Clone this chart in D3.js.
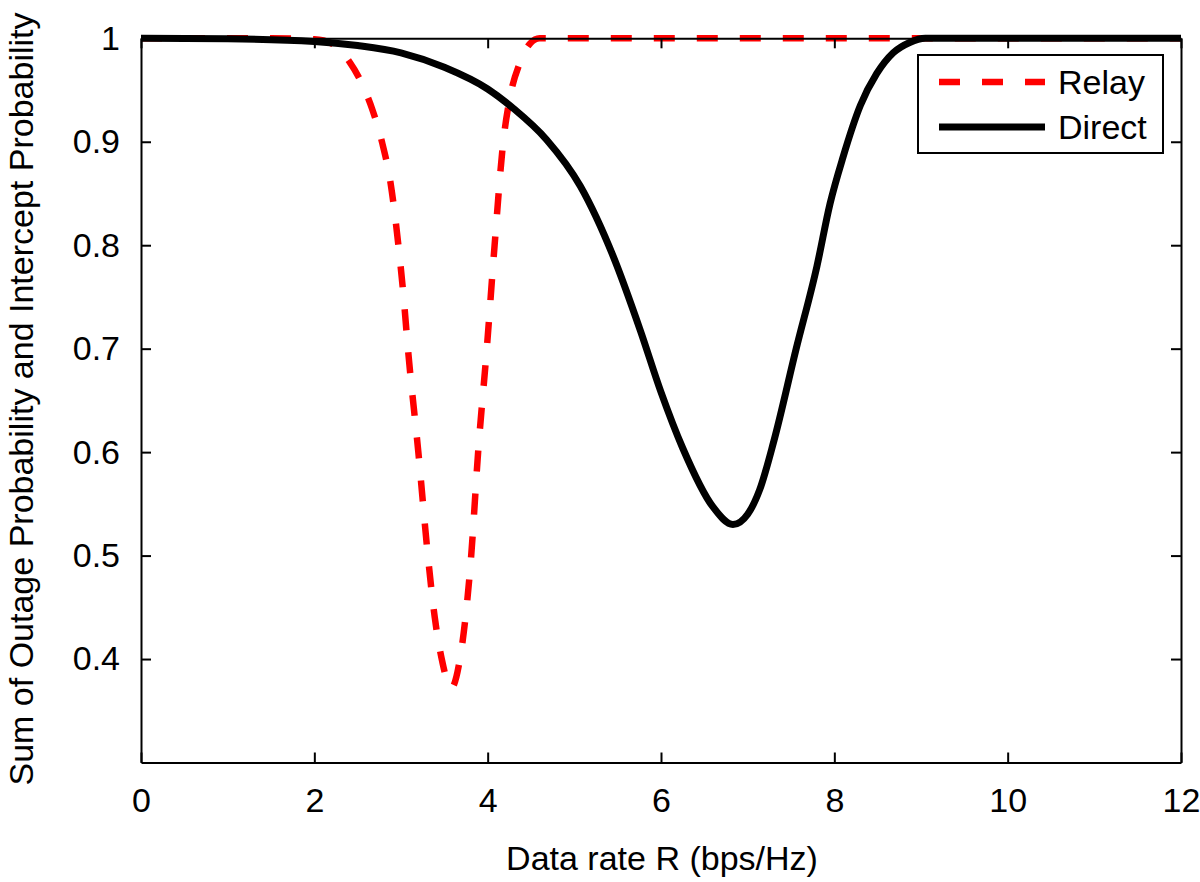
<!DOCTYPE html>
<html>
<head>
<meta charset="utf-8">
<script src="https://cdn.jsdelivr.net/npm/d3@7"></script>
<style>
  html, body { margin: 0; padding: 0; background: #fff; }
  svg { display: block; }
  text { font-family: "Liberation Sans", Arial, Helvetica, sans-serif; fill: #000; }
</style>
</head>
<body>
<svg id="chart" width="1200" height="882"></svg>
<script>
// ---- data ----
const relayX = [0, 1, 1.5, 2, 2.2, 2.4, 2.55, 2.67, 2.78, 2.88, 2.97, 3.03, 3.08, 3.2, 3.31, 3.39, 3.47, 3.58, 3.68, 3.81, 3.89, 3.99, 4.08, 4.18, 4.26, 4.37, 4.49, 4.6, 5, 6, 8, 10, 12];
const relayY = [1, 1, 1, 0.999, 0.995, 0.978, 0.956, 0.931, 0.9, 0.86, 0.8, 0.75, 0.7, 0.6, 0.5, 0.44, 0.4, 0.372, 0.4, 0.5, 0.6, 0.7, 0.8, 0.9, 0.944, 0.976, 0.995, 1, 1, 1, 1, 1, 1];
const directX = [0, 1, 2, 2.5, 3, 3.5, 4.0, 4.3, 4.68, 5.07, 5.45, 5.76, 6.0, 6.25, 6.6, 6.83, 7.0, 7.14, 7.3, 7.56, 7.8, 7.95, 8.1, 8.3, 8.49, 8.68, 8.87, 9.05, 10, 12];
const directY = [1, 0.9995, 0.997, 0.993, 0.986, 0.972, 0.951, 0.932, 0.902, 0.857, 0.789, 0.718, 0.658, 0.604, 0.547, 0.530, 0.54, 0.564, 0.61, 0.7, 0.78, 0.84, 0.885, 0.935, 0.966, 0.986, 0.996, 1, 1, 1];
const xTicks = [0, 2, 4, 6, 8, 10, 12];
const yTicks = [0.4, 0.5, 0.6, 0.7, 0.8, 0.9, 1];
const seriesNames = ["Relay", "Direct"];
const xTitle = "Data rate R (bps/Hz)";
const yTitle = "Sum of Outage Probability and Intercept Probability";

// ---- layout ----
const svg = d3.select("#chart");
const L = 141, R = 1181, T = 38.3, B = 762.5;
const x = d3.scaleLinear().domain([0, 12]).range([L, R]);
const y = d3.scaleLinear().domain([0.3, 1]).range([B, T]);

const relay = relayX.map((v, i) => [v, relayY[i]]);
const direct = directX.map((v, i) => [v, directY[i]]);

const line = d3.line().x(d => x(d[0])).y(d => y(d[1])).curve(d3.curveMonotoneX);

const clipId = "plotclip";
svg.append("clipPath").attr("id", clipId)
  .append("rect").attr("x", L).attr("y", T - 5).attr("width", R - L).attr("height", B - T + 5);

const plot = svg.append("g").attr("clip-path", `url(#${clipId})`);
plot.append("path").datum(relay)
  .attr("d", line).attr("fill", "none")
  .attr("stroke", "#ff0000").attr("stroke-width", 6.5)
  .attr("stroke-dasharray", "21,22");
plot.append("path").datum(direct)
  .attr("d", line).attr("fill", "none")
  .attr("stroke", "#000").attr("stroke-width", 7)
  .attr("stroke-linejoin", "round");

// axes (ticks inward, mirrored)
const tickLen = 10;
const fs = 34;
const axB = svg.append("g").attr("transform", `translate(0,${B})`)
  .call(d3.axisBottom(x).tickValues(xTicks).tickSizeInner(-tickLen).tickSizeOuter(0).tickPadding(25));
const axT = svg.append("g").attr("transform", `translate(0,${T})`)
  .call(d3.axisTop(x).tickValues(xTicks).tickSizeInner(-tickLen).tickSizeOuter(0).tickFormat(""));
const axL = svg.append("g").attr("transform", `translate(${L},0)`)
  .call(d3.axisLeft(y).tickValues(yTicks).tickSizeInner(-tickLen).tickSizeOuter(0).tickPadding(21).tickFormat(d3.format("")));
const axR = svg.append("g").attr("transform", `translate(${R},0)`)
  .call(d3.axisRight(y).tickValues(yTicks).tickSizeInner(-tickLen).tickSizeOuter(0).tickFormat(""));

[axB, axT, axL, axR].forEach(g => {
  g.select(".domain").attr("stroke", "#000").attr("stroke-width", 2);
  g.selectAll(".tick line").attr("stroke", "#000").attr("stroke-width", 2);
  g.selectAll("text").attr("font-size", fs).attr("font-family", "'Liberation Sans', Arial, sans-serif").attr("fill", "#000");
});
axB.selectAll("text").attr("dy", "0.71em");

// axis titles
svg.append("text").attr("x", (L + R) / 2 + 1).attr("y", 870)
  .attr("text-anchor", "middle").attr("font-size", fs).text(xTitle);
svg.append("text").attr("transform", `translate(33,${399}) rotate(-90)`)
  .attr("text-anchor", "middle").attr("font-size", fs).text(yTitle);

// legend
const lg = svg.append("g");
lg.append("rect").attr("x", 918).attr("y", 55).attr("width", 245).attr("height", 98)
  .attr("fill", "#fff").attr("stroke", "#000").attr("stroke-width", 2);
const legendItems = [
  { name: seriesNames[0], color: "#ff0000", w: 6.5, dash: "21,22", yy: 82 },
  { name: seriesNames[1], color: "#000", w: 7, dash: null, yy: 127 }
];
legendItems.forEach(it => {
  lg.append("line").attr("x1", 939).attr("x2", 1045).attr("y1", it.yy).attr("y2", it.yy)
    .attr("stroke", it.color).attr("stroke-width", it.w)
    .attr("stroke-dasharray", it.dash);
  lg.append("text").attr("x", 1058).attr("y", it.yy + 12).attr("font-size", fs).text(it.name);
});
</script>
</body>
</html>
